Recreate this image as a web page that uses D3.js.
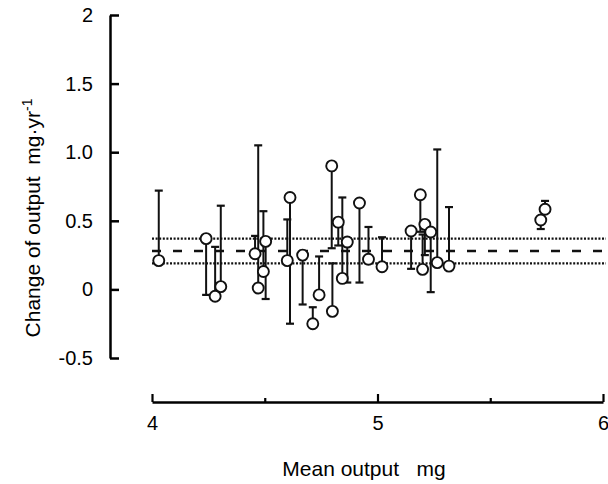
<!DOCTYPE html>
<html>
<head>
<meta charset="utf-8">
<script src="https://cdn.jsdelivr.net/npm/d3@7"></script>
<style>
  body { margin: 0; background: #fff; }
  svg { font-family: "Liberation Sans", Arial, sans-serif; }
</style>
</head>
<body>
<svg id="chart" width="608" height="484"></svg>
<script>
const CIRCLE_R = 5.5;
const CAP_HALF = 4;

// one point per subject: mean output (mg), change (mg/yr) and the end of its one-sided error bar
const meanOutput = [4.03, 4.24, 4.28, 4.305, 4.457, 4.471, 4.494, 4.504, 4.60, 4.612,
                    4.668, 4.713, 4.741, 4.797, 4.80, 4.826, 4.844, 4.866, 4.92, 4.96,
                    5.02, 5.149, 5.19, 5.20, 5.21, 5.236, 5.265, 5.317, 5.724, 5.743]
const change =     [0.21, 0.37, -0.05, 0.02, 0.26, 0.01, 0.13, 0.35, 0.21, 0.67,
                    0.25, -0.25, -0.04, 0.90, -0.16, 0.49, 0.08, 0.345, 0.63, 0.22,
                    0.165, 0.426, 0.69, 0.146, 0.474, 0.418, 0.195, 0.17, 0.506, 0.584]
const errEnd =     [0.72, -0.04, 0.31, 0.61, 0.39, 1.05, 0.57, -0.07, 0.51, -0.25,
                    -0.11, -0.13, 0.24, 0.30, 0.19, 0.32, 0.67, 0.05, 0.05, 0.455,
                    0.38, 0.15, 0.42, 0.40, 0.25, -0.02, 1.02, 0.60, 0.44, 0.645]

const refLines = [0.19, 0.28, 0.37]
const refStyles = ['dot', 'dash', 'dot']

const yTicks = [-0.5, 0, 0.5, 1, 1.5, 2]
const yTickLabels = ['-0.5', '0', '0.5', '1.0', '1.5', '2']
const xTicks = [4, 5, 6]
const xMinorTicks = [4.5, 5.5]

const points = meanOutput.map((m, i) => ({ x: m, y: change[i], e: errEnd[i] }))

const svg = d3.select('svg#chart')

const xScale = d3.scaleLinear().domain([4, 6]).range([152, 603])
const yScale = d3.scaleLinear().domain([-0.5, 2]).range([358, 15])

// y axis, ticks pointing inward, labels on the left
const yAxis = svg.append('g')
  .attr('transform', 'translate(110,0)')
  .call(d3.axisLeft(yScale)
    .tickValues(yTicks)
    .tickFormat((d, i) => yTickLabels[i])
    .tickSizeInner(-9)
    .tickSizeOuter(0)
    .tickPadding(17))
yAxis.select('.domain').attr('stroke', '#000').attr('stroke-width', 2.5)
yAxis.selectAll('.tick line').attr('stroke', '#000').attr('stroke-width', 2.5)
yAxis.selectAll('.tick text').attr('font-size', '20px').attr('fill', '#000')

// x axis, ticks pointing up
const xAxis = svg.append('g')
  .attr('transform', 'translate(0,402)')
  .call(d3.axisBottom(xScale)
    .tickValues(xTicks)
    .tickFormat(d3.format('d'))
    .tickSizeInner(-8)
    .tickSizeOuter(0)
    .tickPadding(14))
xAxis.select('.domain').attr('stroke', '#000').attr('stroke-width', 2.5)
xAxis.selectAll('.tick line').attr('stroke', '#000').attr('stroke-width', 2.2)
xAxis.selectAll('.tick text').attr('font-size', '20px').attr('fill', '#000')

const xMinor = svg.append('g')
  .attr('transform', 'translate(0,402)')
  .call(d3.axisBottom(xScale)
    .tickValues(xMinorTicks)
    .tickFormat('')
    .tickSizeInner(-4)
    .tickSizeOuter(0))
xMinor.select('.domain').remove()
xMinor.selectAll('.tick line').attr('stroke', '#000').attr('stroke-width', 2.2)

// mean and confidence lines
svg.selectAll('line.ref')
  .data(refLines)
  .enter()
  .append('line')
  .attr('class', 'ref')
  .attr('x1', xScale(4))
  .attr('x2', 606)
  .attr('y1', d => yScale(d))
  .attr('y2', d => yScale(d))
  .attr('stroke', '#111')
  .attr('stroke-width', d => 2.4)
  .attr('stroke-dasharray', (d, i) => refStyles[i] === 'dot' ? '2,1.6' : '9,12')

// error bars
svg.selectAll('line.err')
  .data(points)
  .enter()
  .append('line')
  .attr('class', 'err')
  .attr('x1', d => xScale(d.x))
  .attr('x2', d => xScale(d.x))
  .attr('y1', d => yScale(d.y))
  .attr('y2', d => yScale(d.e))
  .attr('stroke', '#111')
  .attr('stroke-width', 2)

svg.selectAll('line.cap')
  .data(points)
  .enter()
  .append('line')
  .attr('class', 'cap')
  .attr('x1', d => xScale(d.x) - CAP_HALF)
  .attr('x2', d => xScale(d.x) + CAP_HALF)
  .attr('y1', d => yScale(d.e))
  .attr('y2', d => yScale(d.e))
  .attr('stroke', '#111')
  .attr('stroke-width', 2.2)

svg.selectAll('circle')
  .data(points)
  .enter()
  .append('circle')
  .attr('cx', d => xScale(d.x))
  .attr('cy', d => yScale(d.y))
  .attr('r', CIRCLE_R)
  .attr('fill', '#fff')
  .attr('stroke', '#111')
  .attr('stroke-width', 1.9)

// axis titles
svg.append('text')
  .attr('x', 364)
  .attr('y', 476)
  .attr('text-anchor', 'middle')
  .attr('font-size', '21px')
  .attr('fill', '#000')
  .attr('xml:space', 'preserve')
  .text('Mean output   mg')

const yTitle = svg.append('text')
  .attr('transform', 'translate(40,218) rotate(-90)')
  .attr('text-anchor', 'middle')
  .attr('font-size', '21px')
  .attr('fill', '#000')
  .attr('xml:space', 'preserve')
yTitle.append('tspan').text('Change of output  mg\u00b7yr')
yTitle.append('tspan').attr('dy', -8).attr('font-size', '14px').text('-1')
</script>
</body>
</html>
